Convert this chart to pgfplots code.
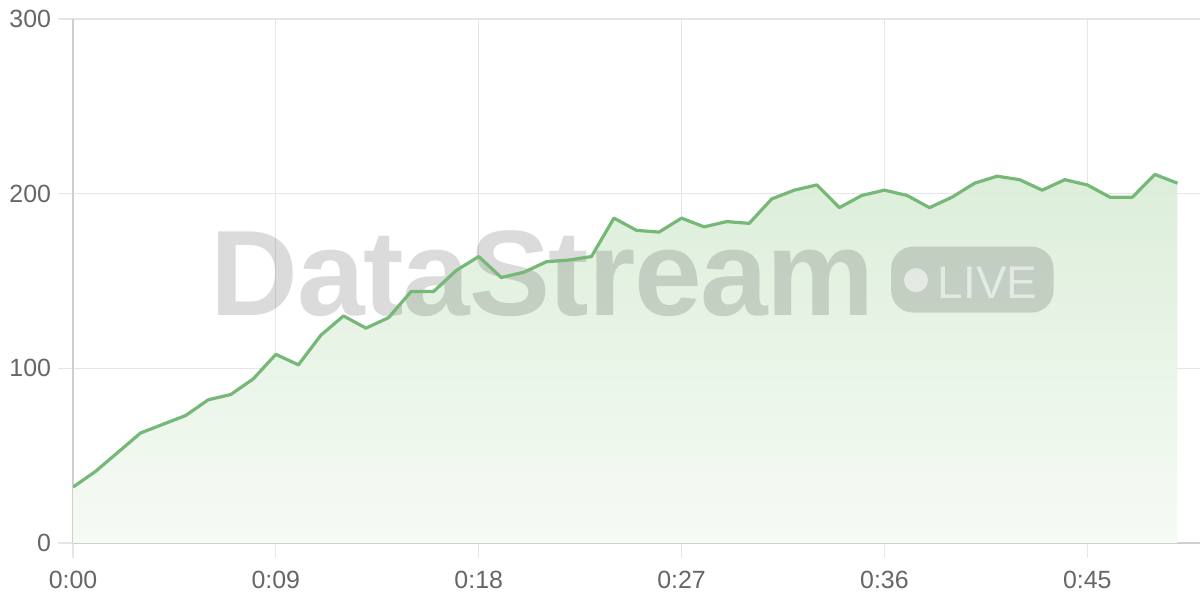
\documentclass[border=0pt]{standalone}
\usepackage{pgfplots}
\pgfplotsset{compat=1.18}
\usepackage{fontspec}
\setmainfont{Liberation Sans}

\definecolor{lgreen}{HTML}{76B877}
\definecolor{ftop}{HTML}{DCEEDA}
\definecolor{fbot}{HTML}{F6FBF5}
\definecolor{gridc}{HTML}{E6E6E6}
\definecolor{axc}{HTML}{CFCFCF}
\definecolor{labc}{HTML}{666666}

\begin{document}
\begin{tikzpicture}
    \path[use as bounding box] (-36.5bp,-28.5bp) rectangle (563.5bp,271.5bp);
    \begin{axis}[
        at={(0,0)}, anchor=south west,
        scale only axis,
        width=563.5bp, height=262bp,
        xmin=0, xmax=50, ymin=0, ymax=300,
        axis x line*=bottom, axis y line*=left,
        x axis line style={-, draw=axc, line width=0.7bp},
        y axis line style={-, draw=axc, line width=0.7bp},
        xtick={0,9,18,27,36,45},
        xticklabels={0:00,0:09,0:18,0:27,0:36,0:45},
        ytick={0,100,200,300},
        grid=major,
        major grid style={draw=gridc, line width=0.6bp},
        tick align=outside,
        major tick length=7.5bp,
        every tick/.style={draw=gridc, line width=0.6bp},
        tick label style={font=\fontsize{12.5}{14}\selectfont, text=labc},
        xticklabel style={yshift=-3bp},
        /pgf/number format/assume math mode=true,
    ]
        % shaded area under the line
        \addplot[draw=none, top color=ftop, bottom color=fbot]
            coordinates {
            (0,32) (1,41) (2,52) (3,63) (4,68) (5,73) (6,82) (7,85) (8,94) (9,108)
            (10,102) (11,119) (12,130) (13,123) (14,129) (15,144) (16,144) (17,156) (18,164) (19,152)
            (20,155) (21,161) (22,162) (23,164) (24,186) (25,179) (26,178) (27,186) (28,181) (29,184)
            (30,183) (31,197) (32,202) (33,205) (34,192) (35,199) (36,202) (37,199) (38,192) (39,198)
            (40,206) (41,210) (42,208) (43,202) (44,208) (45,205) (46,198) (47,198) (48,211) (49,206)
            } \closedcycle;

        % watermark
        \node[anchor=base west, inner sep=0pt, text=black, text opacity=0.14,
              font=\bfseries\fontsize{61}{61}\selectfont\addfontfeatures{LetterSpace=-1}]
            at (axis cs:6.08,130.5) {DataStream};
        \fill[black, opacity=0.14, rounded corners=11bp]
            (axis cs:36.3,131.9) rectangle (axis cs:43.5,169.7);
        \fill[white, opacity=0.55] (axis cs:37.4,150.5) circle[radius=6bp];
        \node[anchor=base west, inner sep=0pt, text=white, text opacity=0.55,
              font=\fontsize{23}{23}\selectfont]
            at (axis cs:38.35,140.2) {LIVE};

        \addplot[lgreen, line width=1.6bp, mark=none, line join=round]
            coordinates {
            (0,32) (1,41) (2,52) (3,63) (4,68) (5,73) (6,82) (7,85) (8,94) (9,108)
            (10,102) (11,119) (12,130) (13,123) (14,129) (15,144) (16,144) (17,156) (18,164) (19,152)
            (20,155) (21,161) (22,162) (23,164) (24,186) (25,179) (26,178) (27,186) (28,181) (29,184)
            (30,183) (31,197) (32,202) (33,205) (34,192) (35,199) (36,202) (37,199) (38,192) (39,198)
            (40,206) (41,210) (42,208) (43,202) (44,208) (45,205) (46,198) (47,198) (48,211) (49,206)
            };
    \end{axis}
\end{tikzpicture}
\end{document}
